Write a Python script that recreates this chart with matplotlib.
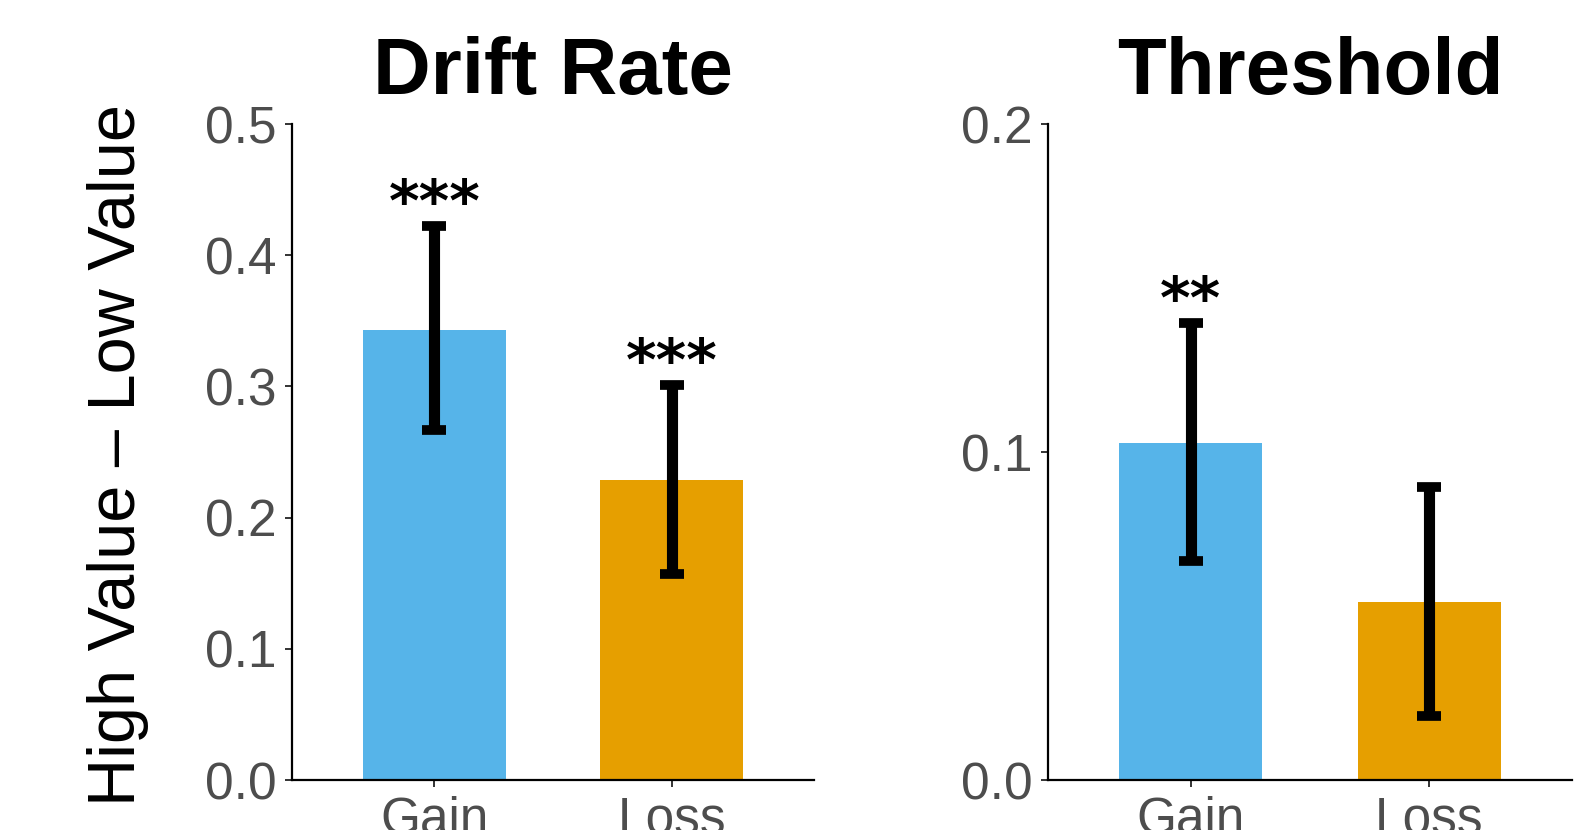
import numpy as np
import matplotlib
matplotlib.use("Agg")
import matplotlib.pyplot as plt

plt.rcParams['font.family'] = ['Liberation Sans', 'DejaVu Sans']

# data
conditions = ['Gain', 'Loss']
bar_colors = ['#56B4E9', '#E69F00']

drift_mean = [0.343, 0.229]
drift_lower = [0.267, 0.157]
drift_upper = [0.422, 0.301]
drift_stars = ['***', '***']

thresh_mean = [0.1026, 0.0543]
thresh_lower = [0.0667, 0.0195]
thresh_upper = [0.1392, 0.0893]
thresh_stars = ['**', '']

W, H = 1595, 830
fig = plt.figure(figsize=(W / 100, H / 100), dpi=100)

ax1 = fig.add_axes([292 / W, 1 - 780 / H, (814 - 292) / W, (780 - 124) / H])
ax2 = fig.add_axes([1048 / W, 1 - 780 / H, (1572 - 1048) / W, (780 - 124) / H])


def draw_panel(ax, title, mean, lower, upper, stars, ymax, yticks):
    x = np.arange(1, len(conditions) + 1)
    mean = np.array(mean)
    err = [mean - np.array(lower), np.array(upper) - mean]
    ax.bar(x, mean, width=0.6, color=bar_colors, zorder=1)
    ax.errorbar(x, mean, yerr=err, fmt='none', ecolor='black',
                elinewidth=8, capsize=8.5, capthick=7, zorder=2)
    for xi, up, s in zip(x, upper, stars):
        if s:
            ax.annotate(s, (xi, up), xytext=(0, 4), textcoords='offset points',
                        ha='center', va='baseline', fontsize=42,
                        fontweight='bold', color='black', family='DejaVu Sans')
    ax.set_xlim(0.4, 2.6)
    ax.set_ylim(0, ymax)
    ax.set_xticks(x)
    ax.set_xticklabels(conditions)
    ax.set_yticks(yticks)
    ax.set_yticklabels([f'{t:.1f}' for t in yticks])
    for side in ['top', 'right']:
        ax.spines[side].set_visible(False)
    for side in ['left', 'bottom']:
        ax.spines[side].set_linewidth(1.6)
        ax.spines[side].set_color('black')
    ax.tick_params(axis='both', labelsize=37, labelcolor='#4D4D4D',
                   length=5, width=1.4, color='#333333', pad=6)
    cx = (ax.get_position().x0 + ax.get_position().x1) / 2
    fig.text(cx, 1 - 93.6 / H, title, ha='center', va='baseline',
             fontsize=57.5, fontweight='bold')


draw_panel(ax1, 'Drift Rate', drift_mean, drift_lower, drift_upper,
           drift_stars, 0.5, [0.0, 0.1, 0.2, 0.3, 0.4, 0.5])
draw_panel(ax2, 'Threshold', thresh_mean, thresh_lower, thresh_upper,
           thresh_stars, 0.2, [0.0, 0.1, 0.2])

fig.text(118 / W, 1 - 455 / H, 'High Value \u2013 Low Value', rotation=90,
         ha='center', va='center', fontsize=48)

fig.savefig('out.png', dpi=100)
